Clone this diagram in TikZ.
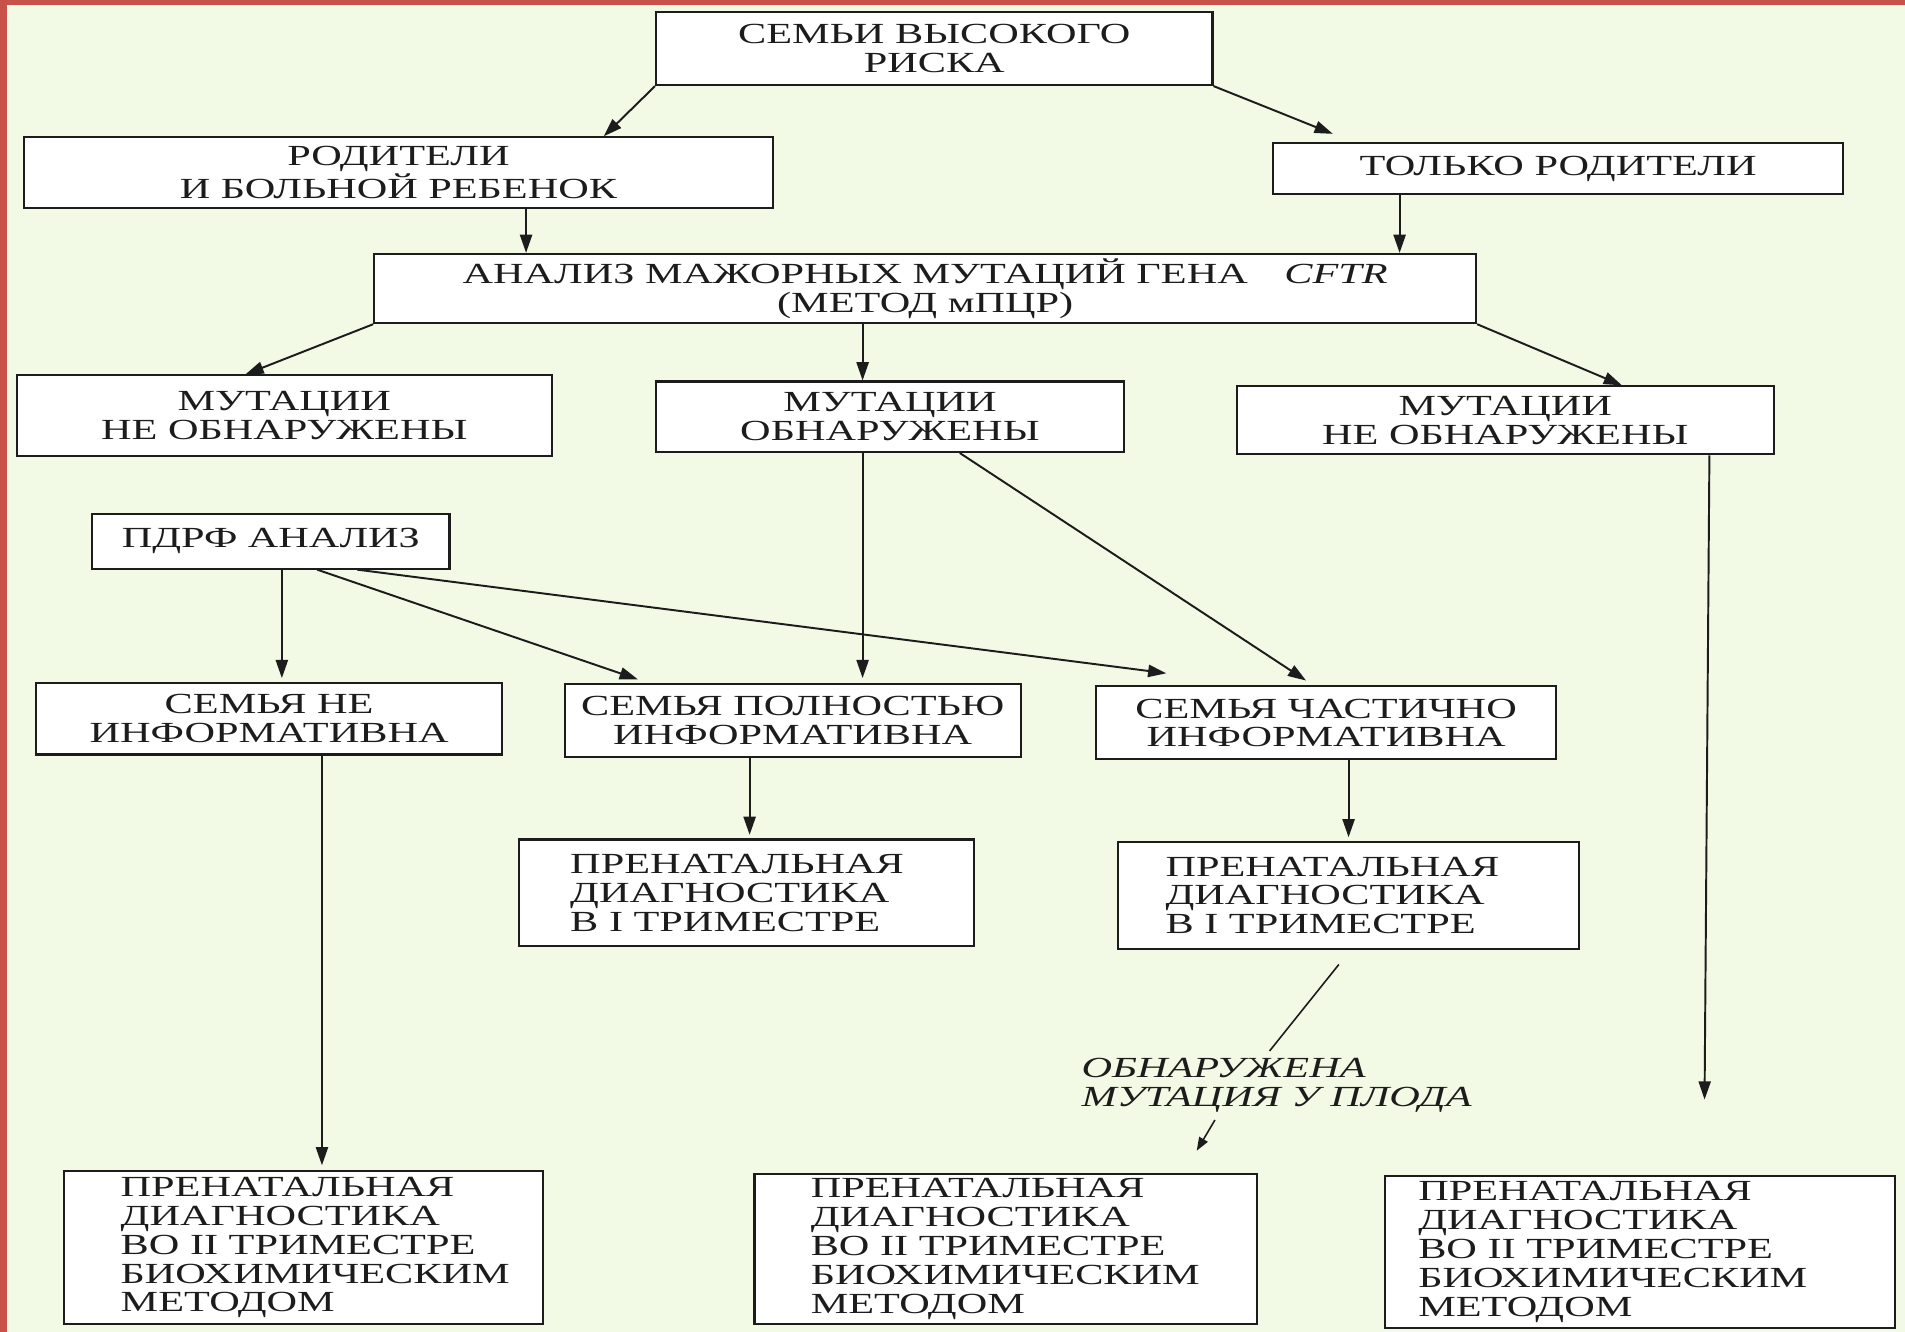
\documentclass[tikz,border=0pt]{standalone}
\usepackage{fontspec}
\setmainfont[FakeStretch=1.45]{Liberation Serif}
\usetikzlibrary{arrows.meta}
\definecolor{bgc}{RGB}{242,249,228}
\definecolor{framec}{RGB}{200,82,74}
\definecolor{ink}{RGB}{28,28,28}
\tikzset{
  box/.style={draw=ink, fill=white, line width=1.7pt, text=ink,
    font=\fontsize{24}{23.7}\selectfont, align=center, inner sep=0pt},
  ltext/.style={text=ink, font=\fontsize{24}{23.7}\selectfont, align=left, inner sep=0pt, anchor=west},
  conn/.style={draw=ink, line width=1.6pt, -{Triangle[length=15pt,width=10pt]}},
  smallconn/.style={draw=ink, line width=1.3pt, -{Triangle[length=11pt,width=8pt]}},
  plain/.style={draw=ink, line width=1.3pt},
}
\begin{document}
\begin{tikzpicture}[x=1pt,y=-1pt]
\useasboundingbox (0,0) rectangle (1568,1096);
\fill[bgc] (0,0) rectangle (1568,1096);
\fill[framec] (0,0) rectangle (6,1096);
\fill[framec] (0,0) rectangle (1568,4);

% boxes
\node[box, minimum width=458, minimum height=60] (top) at (769,40) {СЕМЬИ ВЫСОКОГО\\РИСКА};
\node[box, minimum width=616, minimum height=58] (b2) at (328,142) {РОДИТЕЛИ\\И БОЛЬНОЙ РЕБЕНОК};
\node[box, minimum width=469, minimum height=42] (b3) at (1282.5,139) {ТОЛЬКО РОДИТЕЛИ};
\node[box, minimum width=907, minimum height=57] (b4) at (761.5,237.5) {АНАЛИЗ МАЖОРНЫХ МУТАЦИЙ ГЕНА\hspace{30pt}\textit{CFTR}\\(МЕТОД мПЦР)};
\node[box, minimum width=440, minimum height=66] (b5) at (234,342) {МУТАЦИИ\\НЕ ОБНАРУЖЕНЫ};
\node[box, minimum width=385, minimum height=58] (b6) at (732.5,343) {МУТАЦИИ\\ОБНАРУЖЕНЫ};
\node[box, minimum width=442, minimum height=56] (b7) at (1239,346) {МУТАЦИИ\\НЕ ОБНАРУЖЕНЫ};
\node[box, minimum width=294, minimum height=45] (b8) at (223,445.5) {ПДРФ АНАЛИЗ};
\node[box, minimum width=383, minimum height=59] (b9) at (221.5,591.5) {СЕМЬЯ НЕ\\ИНФОРМАТИВНА};
\node[box, minimum width=375, minimum height=60] (b10) at (652.5,593) {СЕМЬЯ ПОЛНОСТЬЮ\\ИНФОРМАТИВНА};
\node[box, minimum width=379, minimum height=60] (b11) at (1091.5,595) {СЕМЬЯ ЧАСТИЧНО\\ИНФОРМАТИВНА};
\node[box, minimum width=375, minimum height=88] (b12) at (614.5,735) {};
\node[ltext] (t12) at ([xshift=43]b12.west) {ПРЕНАТАЛЬНАЯ\\ДИАГНОСТИКА\\В I ТРИМЕСТРЕ};
\node[box, minimum width=380, minimum height=88] (b13) at (1110,737) {};
\node[ltext] (t13) at ([xshift=40]b13.west) {ПРЕНАТАЛЬНАЯ\\ДИАГНОСТИКА\\В I ТРИМЕСТРЕ};
\node[box, minimum width=394, minimum height=126] (b14) at (250,1027) {};
\node[ltext] (t14) at ([xshift=47]b14.west) {ПРЕНАТАЛЬНАЯ\\ДИАГНОСТИКА\\ВО II ТРИМЕСТРЕ\\БИОХИМИЧЕСКИМ\\МЕТОДОМ};
\node[box, minimum width=414, minimum height=124] (b15) at (828,1028) {};
\node[ltext] (t15) at ([xshift=47]b15.west) {ПРЕНАТАЛЬНАЯ\\ДИАГНОСТИКА\\ВО II ТРИМЕСТРЕ\\БИОХИМИЧЕСКИМ\\МЕТОДОМ};
\node[box, minimum width=420, minimum height=125] (b16) at (1350,1030.5) {};
\node[ltext] (t16) at ([xshift=28]b16.west) {ПРЕНАТАЛЬНАЯ\\ДИАГНОСТИКА\\ВО II ТРИМЕСТРЕ\\БИОХИМИЧЕСКИМ\\МЕТОДОМ};

\node[text=ink, font=\fontsize{24}{23.7}\selectfont\itshape, align=left, inner sep=0pt, anchor=north west] (lab) at (890,871) {ОБНАРУЖЕНА\\МУТАЦИЯ У ПЛОДА};

% connectors
\draw[conn] (top.south west) -- ([xshift=169]b2.north);
\draw[conn] (top.south east) -- ([xshift=-185.5,yshift=7]b3.north);
\draw[conn] ([xshift=105]b2.south) -- ([xshift=-328.5]b4.north);
\draw[conn] ([xshift=-130.5]b3.south) -- ([xshift=390.5]b4.north);
\draw[conn] (b4.south west) -- ([xshift=-32]b5.north);
\draw[conn] ([xshift=-51.5]b4.south) -- ([xshift=-22.5]b6.north);
\draw[conn] (b4.south east) -- ([xshift=96]b7.north);
\draw[conn] ([xshift=-22.5]b6.south) -- ([xshift=57.5,yshift=4]b10.north);
\draw[conn] ([xshift=57.5]b6.south) -- ([xshift=-16.5,yshift=4]b11.north);
\draw[conn] ([xshift=9]b8.south) -- ([xshift=10.5,yshift=3]b9.north);
\draw[conn] ([xshift=38]b8.south) -- ([xshift=-127.5,yshift=3]b10.north);
\draw[conn] ([xshift=71]b8.south) -- ([xshift=-131.5,yshift=10]b11.north);
\draw[conn] ([xshift=-35.5]b10.south) -- ([xshift=2.5,yshift=3]b12.north);
\draw[conn] ([xshift=18.5]b11.south) -- ([yshift=3]b13.north);
\draw[conn] ([xshift=43.5]b9.south) -- ([xshift=15,yshift=4]b14.north);
\coordinate (e16) at (1403,905);
\draw[conn] ([xshift=168]b7.south) -- (e16);
\draw[plain] ([xshift=-8,yshift=-12]b13.south) -- ([xshift=155,yshift=6]lab.north west);
\draw[smallconn] ([xshift=110,yshift=-6]lab.south west) -- ([xshift=157,yshift=18]b15.north);
\end{tikzpicture}
\end{document}
